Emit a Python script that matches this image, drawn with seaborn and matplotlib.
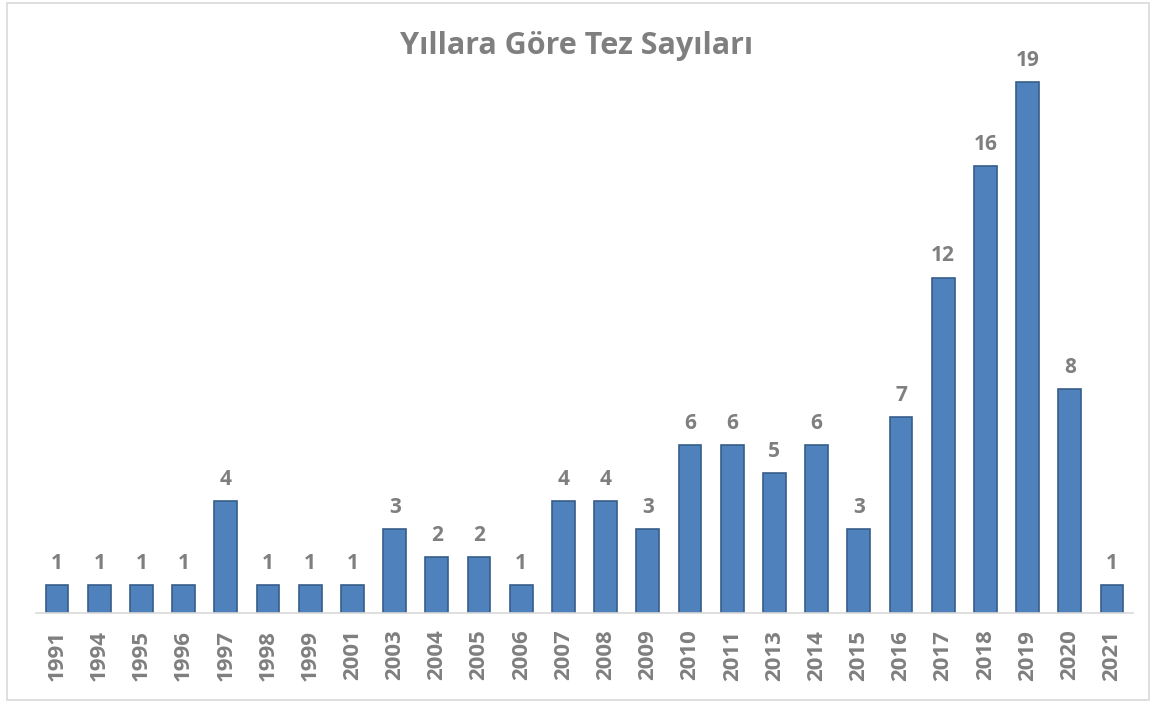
import pandas as pd
import matplotlib.pyplot as plt
import seaborn as sns
from matplotlib.patches import Rectangle

# Chart data
years = ['1991', '1994', '1995', '1996', '1997', '1998', '1999', '2001', '2003',
         '2004', '2005', '2006', '2007', '2008', '2009', '2010', '2011', '2013',
         '2014', '2015', '2016', '2017', '2018', '2019', '2020', '2021']
counts = [1, 1, 1, 1, 4, 1, 1, 1, 3, 2, 2, 1, 4, 4, 3, 6, 6, 5, 6, 3, 7, 12,
          16, 19, 8, 1]
title = 'Yıllara Göre Tez Sayıları'

GRAY = '#7F7F7F'
BLUE = '#4F81BD'
EDGE = '#385D8A'


def make_chart():
    df = pd.DataFrame({'Yil': years, 'Tez': counts})

    sns.set_theme(style='white')
    plt.rcParams['font.family'] = ['Open Sans', 'DejaVu Sans']

    fig = plt.figure(figsize=(11.53, 7.02), dpi=100)
    ax = fig.add_axes([36 / 1153, 89 / 702, (1133 - 36) / 1153, (613 - 54) / 702])

    sns.barplot(data=df, x='Yil', y='Tez', color=BLUE, width=0.54,
                edgecolor=EDGE, linewidth=1.2, saturation=1, ax=ax)

    # value labels above bars
    for c in ax.containers:
        ax.bar_label(c, padding=8, fontsize=15, fontweight='bold', color=GRAY)

    ax.set_ylim(0, 20)
    ax.set_xlim(-0.5, len(years) - 0.5)
    ax.set_xlabel('')
    ax.set_ylabel('')
    ax.set_yticks([])
    ax.tick_params(axis='x', length=0, pad=12, labelsize=16,
                   labelcolor=GRAY, rotation=90)
    for lbl in ax.get_xticklabels():
        lbl.set_fontweight('bold')

    for side in ['top', 'right', 'left']:
        ax.spines[side].set_visible(False)
    ax.spines['bottom'].set_color('#D9D9D9')
    ax.spines['bottom'].set_linewidth(1.2)

    fig.text(0.5, 1 - 46 / 702, title, ha='center', va='center',
             fontsize=22, fontweight='bold', color=GRAY)

    # light frame around the chart area
    fig.patches.append(Rectangle((7 / 1153, 2 / 702), 1142 / 1153, 697 / 702,
                                 transform=fig.transFigure, fill=False,
                                 edgecolor='#D9D9D9', linewidth=1.2))

    fig.savefig('out.png', dpi=100)
    plt.close(fig)


if __name__ == "__main__":
    make_chart()
